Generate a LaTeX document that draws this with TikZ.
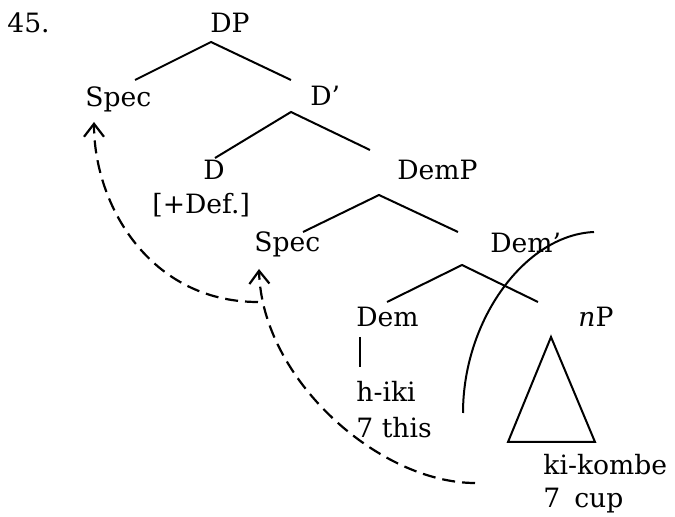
\documentclass[tikz,border=0pt]{standalone}
\usepackage{fontspec}
\setmainfont{DejaVu Serif}
\usetikzlibrary{arrows.meta, positioning}

\begin{document}
\begin{tikzpicture}[
    x=0.5pt,
    y=-0.5pt,
    % === STYLES ===
    cat/.style={
        inner sep=0pt,
        anchor=base west,
        font=\fontsize{13.3}{18}\selectfont
    },
    branch/.style={
        line width=1pt
    },
    move/.style={
        line width=1.1pt,
        dash pattern=on 6.5pt off 3.5pt,
        -{Straight Barb[length=6.5pt, width=10pt]}
    }
]
\useasboundingbox (0,0) rectangle (675,517);

% === LABELS ===
\node[cat] (num) at (7,33) {45.};
\node[cat] (dp) at (210,33) {DP};
\node[cat] (spec1) at (85,107) {Spec};
\node[cat] (dbar) at (310,106) {D’};
\node[cat] (d) at (203,180) {D};
\node[cat] (def) at (152,214) {[+Def.]};
\node[cat] (demp) at (397,180) {DemP};
\node[cat] (spec2) at (254,252) {Spec};
\node[cat] (dembar) at (490,253) {Dem’};
\node[cat] (dem) at (356,327) {Dem};
\node[cat] (np) at (578,327) {{\itshape n}P};

% Words and glosses
\node[cat] (hiki) at (356,402) {h-iki};
\node[cat] (this) at (356,438) {7 this};
\node[cat] (kikombe) at (543,475) {ki-kombe};
\node[cat] (cup) at (543,508) {7\hspace{7pt}cup};

% === BRANCH POINTS ===
\coordinate (dp-j) at (211,42);
\coordinate (spec1-in) at (135,80);
\coordinate (dbar-in) at (291,80);
\coordinate (dbar-j) at (291,112);
\coordinate (d-in) at (215,158);
\coordinate (demp-in) at (370,150);
\coordinate (demp-j) at (379,195);
\coordinate (spec2-in) at (303,232);
\coordinate (dembar-in) at (458,232);
\coordinate (dembar-j) at (462,265);
\coordinate (dem-in) at (387,302);
\coordinate (np-in) at (538,302);
\coordinate (dem-j) at (360,337);
\coordinate (hiki-in) at (360,367);

% === BRANCHES ===
\draw[branch] (spec1-in) -- (dp-j) -- (dbar-in);
\draw[branch] (d-in) -- (dbar-j) -- (demp-in);
\draw[branch] (spec2-in) -- (demp-j) -- (dembar-in);
\draw[branch] (dem-in) -- (dembar-j) -- (np-in);
\draw[branch] (dem-j) -- (hiki-in);

% nP triangle
\draw[branch] (551,337) -- (595,442) -- (508,442) -- cycle;

% Boundary arc
\draw[branch] (594,232) .. controls (525,235) and (463,320) .. (463,413);

% === MOVEMENT ===
\coordinate (move1-start) at (258,302);
\coordinate (move2-start) at (475,483);
\draw[move] (move1-start) .. controls (150,302) and (94,205) .. ([shift={(4.5pt,-7.5pt)}]spec1.base west);
\draw[move] (move2-start) .. controls (380,483) and (262,380) .. ([shift={(2.5pt,-8.5pt)}]spec2.base west);

\end{tikzpicture}
\end{document}
